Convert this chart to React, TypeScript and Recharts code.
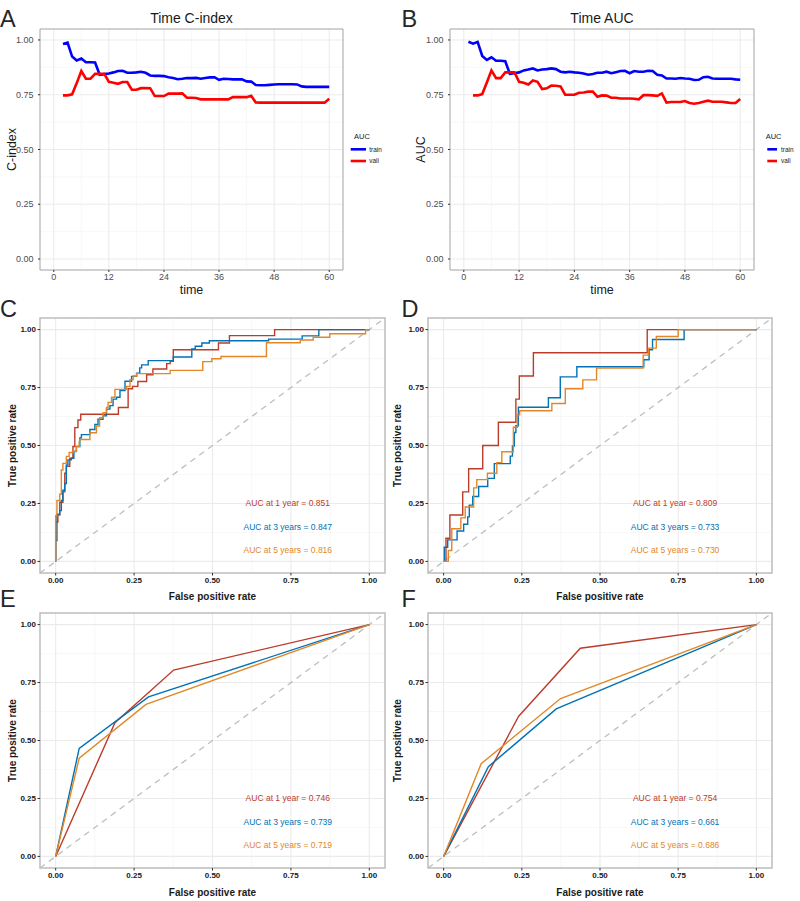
import React from "react";
import {
  LineChart,
  Line,
  XAxis,
  YAxis,
  CartesianGrid,
  ReferenceLine,
  ReferenceArea,
  ReferenceDot,
} from "recharts";

const FONT = '"Liberation Sans", Arial, Helvetica, sans-serif';

const RED = "#BC3C29";
const BLUE = "#0072B5";
const ORANGE = "#E18727";

// ---- time-dependent C-index / AUC, months 1..60 ----
const months = Array.from({ length: 60 }, (_, i) => i + 1);
const monthTicks = [0, 12, 24, 36, 48, 60];
const monthMinor = [6, 18, 30, 42, 54];
const rateTicks = [0, 0.25, 0.5, 0.75, 1];
const rateMinor = [0.125, 0.375, 0.625, 0.875];

const cindexTrain = [
  null, 0.982, 0.988, 0.924, 0.906, 0.915, 0.898, 0.898, 0.897, 0.841,
  0.844, 0.847, 0.852, 0.858, 0.859, 0.85, 0.85, 0.852, 0.855, 0.85,
  0.838, 0.836, 0.836, 0.835, 0.83, 0.826, 0.821, 0.823, 0.826, 0.826,
  0.827, 0.823, 0.826, 0.829, 0.83, 0.818, 0.823, 0.822, 0.82, 0.82,
  0.82, 0.811, 0.81, 0.794, 0.793, 0.793, 0.795, 0.797, 0.798, 0.798,
  0.798, 0.798, 0.797, 0.788, 0.786, 0.786, 0.786, 0.786, 0.786, 0.786,
];
const cindexVali = [
  null, 0.747, 0.747, 0.752, 0.803, 0.858, 0.823, 0.823, 0.845, 0.845,
  0.845, 0.809, 0.805, 0.8, 0.808, 0.808, 0.773, 0.773, 0.78, 0.781,
  0.78, 0.744, 0.744, 0.744, 0.755, 0.755, 0.755, 0.756, 0.736, 0.736,
  0.735, 0.729, 0.729, 0.729, 0.729, 0.729, 0.729, 0.729, 0.739, 0.739,
  0.739, 0.739, 0.745, 0.715, 0.714, 0.714, 0.714, 0.714, 0.714, 0.714,
  0.714, 0.714, 0.714, 0.714, 0.714, 0.714, 0.714, 0.714, 0.714, 0.732,
];
const aucTrain = [
  0.992, 0.983, 0.991, 0.927, 0.909, 0.921, 0.905, 0.905, 0.903, 0.845,
  0.848, 0.852, 0.861, 0.865, 0.87, 0.861, 0.865, 0.867, 0.87, 0.867,
  0.855, 0.852, 0.855, 0.852, 0.85, 0.847, 0.841, 0.845, 0.85, 0.85,
  0.855, 0.848, 0.853, 0.858, 0.859, 0.848, 0.858, 0.855, 0.855, 0.859,
  0.858, 0.841, 0.838, 0.824, 0.824, 0.823, 0.826, 0.824, 0.823, 0.817,
  0.818, 0.83, 0.832, 0.824, 0.823, 0.823, 0.823, 0.823, 0.82, 0.818,
];
const aucVali = [
  null, 0.747, 0.747, 0.753, 0.806, 0.861, 0.826, 0.826, 0.852, 0.852,
  0.852, 0.809, 0.805, 0.797, 0.815, 0.809, 0.776, 0.779, 0.792, 0.791,
  0.788, 0.75, 0.75, 0.75, 0.759, 0.76, 0.764, 0.764, 0.741, 0.747,
  0.746, 0.736, 0.736, 0.733, 0.733, 0.733, 0.732, 0.729, 0.748, 0.748,
  0.747, 0.745, 0.756, 0.714, 0.717, 0.717, 0.717, 0.721, 0.712, 0.709,
  0.712, 0.718, 0.723, 0.718, 0.718, 0.718, 0.715, 0.712, 0.712, 0.73,
];

// ---- ROC curves: each point is where the TPR steps up ----
// training cohort (C)
const cFpr1 = [0, 0, 0.007, 0.013, 0.023, 0.029, 0.034, 0.045, 0.055, 0.061, 0.071, 0.08, 0.2, 0.231, 0.245, 0.262, 0.29, 0.31, 0.354, 0.365, 0.375, 0.519, 0.554, 0.698, 1];
const cTpr1 = [0, 0.17, 0.2, 0.255, 0.3, 0.38, 0.41, 0.445, 0.496, 0.577, 0.61, 0.635, 0.664, 0.745, 0.755, 0.776, 0.805, 0.83, 0.853, 0.863, 0.913, 0.942, 0.974, 1, 1];
const cFpr3 = [0, 0, 0.004, 0.013, 0.018, 0.023, 0.029, 0.034, 0.039, 0.05, 0.058, 0.066, 0.077, 0.082, 0.109, 0.125, 0.135, 0.151, 0.162, 0.173, 0.183, 0.194, 0.205, 0.221, 0.242, 0.258, 0.268, 0.274, 0.295, 0.375, 0.434, 0.445, 0.466, 0.49, 0.679, 0.786, 0.839, 1];
const cTpr3 = [0, 0.09, 0.204, 0.219, 0.263, 0.307, 0.336, 0.416, 0.438, 0.445, 0.474, 0.496, 0.533, 0.547, 0.569, 0.591, 0.613, 0.628, 0.657, 0.672, 0.7, 0.708, 0.737, 0.777, 0.798, 0.812, 0.835, 0.848, 0.866, 0.882, 0.916, 0.928, 0.942, 0.952, 0.959, 0.973, 1, 1];
const cFpr5 = [0, 0, 0.004, 0.013, 0.018, 0.023, 0.034, 0.043, 0.055, 0.066, 0.075, 0.077, 0.109, 0.13, 0.14, 0.151, 0.162, 0.167, 0.178, 0.189, 0.226, 0.237, 0.247, 0.258, 0.365, 0.469, 0.498, 0.527, 0.672, 0.78, 0.821, 0.874, 0.988, 1];
const cTpr5 = [0, 0.197, 0.263, 0.29, 0.394, 0.423, 0.453, 0.47, 0.475, 0.496, 0.518, 0.526, 0.555, 0.584, 0.62, 0.642, 0.664, 0.686, 0.708, 0.742, 0.755, 0.784, 0.8, 0.81, 0.824, 0.862, 0.874, 0.884, 0.943, 0.955, 0.967, 0.982, 1, 1];

// validation cohort (D)
const dFpr1 = [0, 0.0075, 0.02, 0.061, 0.08, 0.125, 0.175, 0.231, 0.242, 0.287, 0.651, 1];
const dTpr1 = [0, 0.1, 0.2, 0.3, 0.4, 0.5, 0.6, 0.7, 0.8, 0.9, 1, 1];
const dFpr3 = [0, 0.002, 0.013, 0.043, 0.064, 0.077, 0.082, 0.093, 0.112, 0.141, 0.162, 0.213, 0.22, 0.226, 0.231, 0.239, 0.335, 0.373, 0.426, 0.64, 0.657, 0.668, 0.769, 1];
const dTpr3 = [0, 0.061, 0.093, 0.131, 0.16, 0.192, 0.243, 0.28, 0.323, 0.358, 0.422, 0.454, 0.498, 0.556, 0.585, 0.665, 0.706, 0.796, 0.84, 0.87, 0.913, 0.957, 1, 1];
const dFpr5 = [0, 0.015, 0.026, 0.055, 0.069, 0.096, 0.106, 0.14, 0.17, 0.186, 0.223, 0.236, 0.243, 0.346, 0.389, 0.445, 0.489, 0.638, 0.655, 0.68, 0.75, 1];
const dTpr5 = [0, 0.047, 0.141, 0.188, 0.235, 0.317, 0.353, 0.38, 0.426, 0.473, 0.579, 0.632, 0.65, 0.681, 0.745, 0.783, 0.834, 0.89, 0.92, 0.97, 1, 1];

// nomogram-style single cut (E, F)
const eFpr1 = [0, 0.189, 0.376, 1];
const eTpr1 = [0, 0.577, 0.804, 1];
const eFpr3 = [0, 0.075, 0.296, 1];
const eTpr3 = [0, 0.466, 0.688, 1];
const eFpr5 = [0, 0.075, 0.288, 1];
const eTpr5 = [0, 0.424, 0.656, 1];
const fFpr1 = [0, 0.24, 0.437, 1];
const fTpr1 = [0, 0.605, 0.898, 1];
const fFpr3 = [0, 0.143, 0.36, 1];
const fTpr3 = [0, 0.387, 0.636, 1];
const fFpr5 = [0, 0.12, 0.374, 1];
const fTpr5 = [0, 0.4, 0.681, 1];

const aucC = ["0.851", "0.847", "0.816"];
const aucD = ["0.809", "0.733", "0.730"];
const aucE = ["0.746", "0.739", "0.719"];
const aucF = ["0.754", "0.661", "0.686"];
const aucLabels = ["AUC at 1 year", "AUC at 3 years", "AUC at 5 years"];
const aucLabelY = [0.25, 0.15, 0.05];

const toRows = (fpr: number[], tpr: number[]) => fpr.map((f, i) => ({ fpr: f, tpr: tpr[i] }));

function TimeChart({ left, yLabel, train, vali, marginLeft, marginRight, labelOffset }: any) {
  const rows = months.map((m, i) => ({ month: m, train: train[i], vali: vali[i] }));
  return (
    <div style={{ position: "absolute", left, top: 0 }}>
      <LineChart width={400} height={300} data={rows} margin={{ top: 29, right: marginRight, bottom: 0, left: marginLeft }}>
        <CartesianGrid verticalValues={monthMinor} horizontalValues={rateMinor} stroke="#F3F3F3" strokeWidth={0.6} />
        <CartesianGrid verticalValues={monthTicks} horizontalValues={rateTicks} stroke="#EBEBEB" strokeWidth={1.1} />
        <XAxis
          type="number"
          dataKey="month"
          domain={[-3, 63]}
          ticks={monthTicks}
          height={30}
          axisLine={false}
          tickSize={2}
          tickMargin={2}
          tickLine={{ stroke: "#333333" }}
          tick={{ fill: "#4D4D4D", fontSize: 9 }}
          label={{ value: "time", position: "insideBottom", offset: 6.5, fontSize: 12.5, fill: "#1A1A1A" }}
        />
        <YAxis
          type="number"
          domain={[-0.05, 1.05]}
          ticks={rateTicks}
          width={40}
          axisLine={false}
          tickSize={2}
          tickMargin={4.5}
          tickLine={{ stroke: "#333333" }}
          tick={{ fill: "#4D4D4D", fontSize: 9 }}
          tickFormatter={(v: number) => v.toFixed(2)}
          label={{ value: yLabel, angle: -90, position: "insideLeft", offset: labelOffset, fontSize: 12.5, fill: "#1A1A1A", style: { textAnchor: "middle" } }}
        />
        <ReferenceArea x1={-3} x2={63} y1={-0.05} y2={1.05} fill="none" stroke="#A3A3A3" strokeWidth={1} ifOverflow="visible" />
        <Line type="linear" dataKey="train" stroke="#0000FF" strokeWidth={2.6} dot={false} isAnimationActive={false} />
        <Line type="linear" dataKey="vali" stroke="#FF0000" strokeWidth={2.6} dot={false} isAnimationActive={false} />
      </LineChart>
    </div>
  );
}

function RocChart({ left, top, height, marginLeft, marginRight, curves, aucs, step, labelOffset }: any) {
  const colors = [RED, BLUE, ORANGE];
  return (
    <div style={{ position: "absolute", left, top }}>
      <LineChart width={400} height={height} margin={{ top: 23, right: marginRight, bottom: 0, left: marginLeft }}>
        <CartesianGrid verticalValues={rateMinor} horizontalValues={rateMinor} stroke="#F3F3F3" strokeWidth={0.6} />
        <CartesianGrid verticalValues={rateTicks} horizontalValues={rateTicks} stroke="#EBEBEB" strokeWidth={1.1} />
        <XAxis
          type="number"
          dataKey="fpr"
          domain={[-0.05, 1.05]}
          ticks={rateTicks}
          height={height - 278}
          axisLine={false}
          tickSize={2.5}
          tickMargin={1.5}
          tickLine={{ stroke: "#333333" }}
          tick={{ fill: "#1A1A1A", fontSize: 8, fontWeight: "bold" }}
          tickFormatter={(v: number) => v.toFixed(2)}
          label={{ value: "False positive rate", position: "insideBottom", offset: labelOffset, fontSize: 10, fontWeight: "bold", fill: "#1A1A1A" }}
        />
        <YAxis
          type="number"
          dataKey="tpr"
          domain={[-0.05, 1.05]}
          ticks={rateTicks}
          width={40}
          axisLine={false}
          tickSize={2.5}
          tickMargin={1.5}
          tickLine={{ stroke: "#333333" }}
          tick={{ fill: "#1A1A1A", fontSize: 8, fontWeight: "bold" }}
          tickFormatter={(v: number) => v.toFixed(2)}
          label={{ value: "True positive rate", angle: -90, position: "insideLeft", offset: 12 - marginLeft, fontSize: 10, fontWeight: "bold", fill: "#1A1A1A", style: { textAnchor: "middle" } }}
        />
        <ReferenceArea x1={-0.05} x2={1.05} y1={-0.05} y2={1.05} fill="none" stroke="#BDBDBD" strokeWidth={1.5} ifOverflow="visible" />
        <ReferenceLine
          segment={[{ x: -0.05, y: -0.05 }, { x: 1.05, y: 1.05 }]}
          stroke="#BEBEBE"
          strokeWidth={1.3}
          strokeDasharray="6 5"
          ifOverflow="visible"
        />
        {curves.map((c: any, i: number) => (
          <Line
            key={i}
            data={toRows(c[0], c[1])}
            type={step ? "stepAfter" : "linear"}
            dataKey="tpr"
            stroke={colors[i]}
            strokeWidth={1.4}
            dot={false}
            isAnimationActive={false}
          />
        ))}
        {aucs.map((a: string, i: number) => (
          <ReferenceDot
            key={"auc" + i}
            x={0.74}
            y={aucLabelY[i]}
            r={0}
            fill="none"
            stroke="none"
            label={{ value: `${aucLabels[i]} = ${a}`, position: "center", fill: colors[i], fontSize: 8.5 }}
          />
        ))}
      </LineChart>
    </div>
  );
}

function Overlay() {
  const letter = { fontSize: 23.5, fill: "#262626" };
  return (
    <svg width={800} height={901} style={{ position: "absolute", left: 0, top: 0, pointerEvents: "none" }}>
      <text x={0} y={26.7} {...letter}>A</text>
      <text x={401.5} y={26.7} {...letter}>B</text>
      <text x={0} y={316.5} {...letter}>C</text>
      <text x={401.5} y={316.5} {...letter}>D</text>
      <text x={0} y={606.5} {...letter}>E</text>
      <text x={401.5} y={606.5} {...letter}>F</text>

      <text x={191.5} y={23} fontSize={14} fill="#1A1A1A" textAnchor="middle">Time C-index</text>
      <text x={602} y={23} fontSize={14} fill="#1A1A1A" textAnchor="middle">Time AUC</text>

      {/* legends for the time curves */}
      <text x={354} y={138.7} fontSize={7.5} fill="#1A1A1A">AUC</text>
      <line x1={350.7} x2={366} y1={149.3} y2={149.3} stroke="#0000FF" strokeWidth={2.6} />
      <line x1={350.7} x2={366} y1={161} y2={161} stroke="#FF0000" strokeWidth={2.6} />
      <text x={369.3} y={151.6} fontSize={6.4} fill="#1A1A1A">train</text>
      <text x={369.3} y={163.3} fontSize={6.4} fill="#1A1A1A">vali</text>

      <text x={765.7} y={138.7} fontSize={7.5} fill="#1A1A1A">AUC</text>
      <line x1={767.3} x2={777} y1={149.3} y2={149.3} stroke="#0000FF" strokeWidth={2.6} />
      <line x1={767.3} x2={777} y1={161} y2={161} stroke="#FF0000" strokeWidth={2.6} />
      <text x={781} y={151.6} fontSize={6.4} fill="#1A1A1A">train</text>
      <text x={781} y={163.3} fontSize={6.4} fill="#1A1A1A">vali</text>
    </svg>
  );
}

export default function App() {
  return (
    <div style={{ position: "absolute", left: 0, top: 0, width: 800, height: 901, background: "#FFFFFF", fontFamily: FONT, overflow: "hidden" }}>
      <TimeChart left={0} yLabel="C-index" train={cindexTrain} vali={cindexVali} marginLeft={0} marginRight={57} labelOffset={12} />
      <TimeChart left={400} yLabel="AUC" train={aucTrain} vali={aucVali} marginLeft={10} marginRight={46} labelOffset={11} />

      <RocChart
        left={0} top={295} height={310} marginLeft={0} marginRight={15} step labelOffset={5.5}
        curves={[[cFpr1, cTpr1], [cFpr3, cTpr3], [cFpr5, cTpr5]]} aucs={aucC}
      />
      <RocChart
        left={385} top={295} height={310} marginLeft={3} marginRight={13} step labelOffset={5.5}
        curves={[[dFpr1, dTpr1], [dFpr3, dTpr3], [dFpr5, dTpr5]]} aucs={aucD}
      />
      <RocChart
        left={0} top={590} height={311} marginLeft={0} marginRight={15} step={false} labelOffset={5.5}
        curves={[[eFpr1, eTpr1], [eFpr3, eTpr3], [eFpr5, eTpr5]]} aucs={aucE}
      />
      <RocChart
        left={385} top={590} height={311} marginLeft={3} marginRight={13} step={false} labelOffset={5.5}
        curves={[[fFpr1, fTpr1], [fFpr3, fTpr3], [fFpr5, fTpr5]]} aucs={aucF}
      />

      <Overlay />
    </div>
  );
}
